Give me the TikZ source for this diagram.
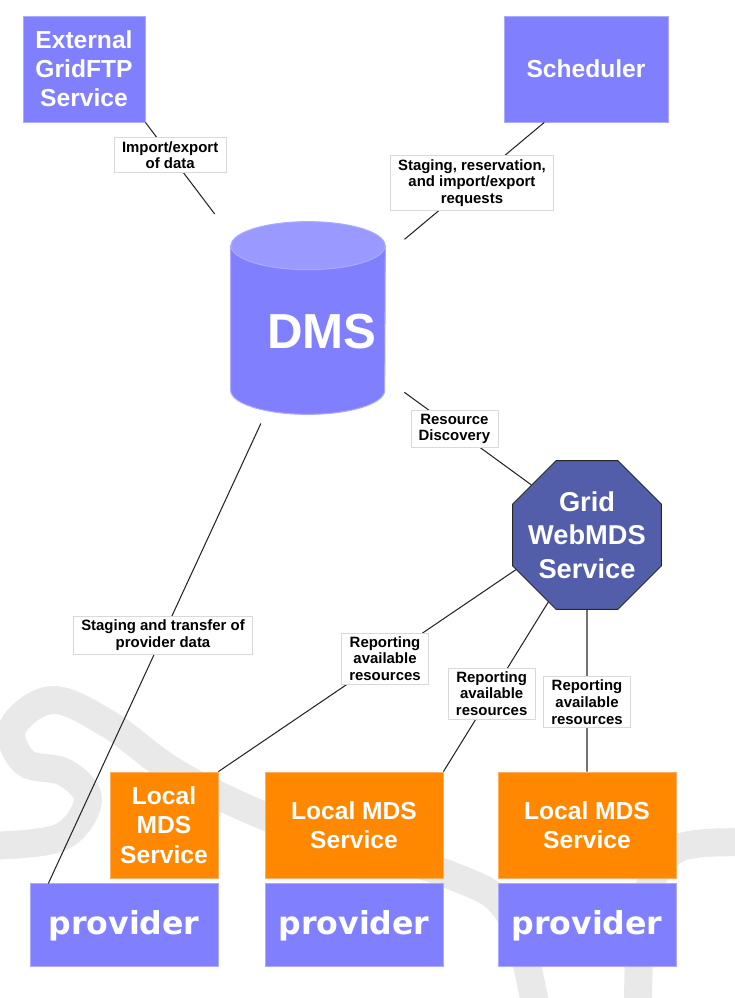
\documentclass[tikz,border=0pt]{standalone}
\usepackage{fontspec}
\setmainfont{Liberation Sans}
\newfontfamily\provfont{DejaVu Sans}
\usepackage{xcolor}
\usetikzlibrary{shapes.geometric, positioning, calc}
\definecolor{boxblue}{RGB}{128,128,255}
\definecolor{boxedge}{RGB}{170,170,255}
\definecolor{cyltop}{RGB}{153,153,255}
\definecolor{hubblue}{RGB}{82,94,170}
\definecolor{mdsorange}{RGB}{255,136,0}
\definecolor{mdsedge}{RGB}{255,175,100}
\definecolor{swirlgray}{RGB}{233,233,233}
\tikzset{
    service/.style={
        rectangle,
        draw=boxedge,
        line width=0.5pt,
        fill=boxblue,
        text=white,
        align=center,
        minimum height=2.12cm,
        font=\bfseries\fontsize{14}{16.6}\selectfont
    },
    localmds/.style={
        rectangle,
        draw=mdsedge,
        line width=0.5pt,
        fill=mdsorange,
        text=white,
        align=center,
        minimum height=2.12cm,
        font=\bfseries\fontsize{14}{16.8}\selectfont
    },
    provbox/.style={
        rectangle,
        draw=boxedge,
        line width=0.5pt,
        fill=boxblue,
        text=white,
        minimum height=1.66cm,
        font=\provfont\bfseries\fontsize{18}{20}\selectfont
    },
    hub/.style={
        regular polygon,
        regular polygon sides=8,
        minimum size=3.22cm,
        inner sep=-6pt,
        draw=black!85,
        line width=0.5pt,
        fill=hubblue,
        text=white,
        align=center,
        font=\bfseries\fontsize{15.5}{19}\selectfont
    },
    link/.style={
        draw=black!85,
        line width=0.6pt
    },
    linklabel/.style={
        rectangle,
        draw=black!15,
        line width=0.3pt,
        fill=white,
        align=center,
        inner xsep=4.5pt,
        inner ysep=2pt,
        font=\bfseries\fontsize{8.5}{9.5}\selectfont
    },
    swirl/.style={
        draw=swirlgray,
        line width=0.56cm
    }
}
\begin{document}
\begin{tikzpicture}

\useasboundingbox (0,0) rectangle (14.7,-19.96);

% Background swirl
\draw[swirl] plot[smooth, tension=0.6] coordinates {(-0.3,-16.92) (1.2,-16.75) (1.76,-16.0) (1.3,-15.45) (0.5,-15.25) (0.25,-14.55) (1.05,-14.0) (2.2,-14.5) (3.66,-15.54) (6.0,-16.6) (9.0,-17.5) (10.2,-18.3) (10.74,-20.3)};
\draw[swirl] plot[smooth, tension=0.6] coordinates {(15.0,-16.85) (13.6,-16.95) (13.0,-17.7) (12.8,-18.8) (12.76,-20.3)};

% External GridFTP service and scheduler
\node[service, minimum width=2.44cm] (gridftp) at (1.68,-1.38) {External\\GridFTP\\Service};
\node[service, minimum width=3.28cm] (sched) at (11.72,-1.38) {Scheduler};

% DMS cylinder
\node[rectangle, minimum width=3.08cm, minimum height=3.84cm, inner sep=0pt] (dms) at (6.16,-6.36) {};
\filldraw[fill=boxblue, draw=boxedge, line width=0.6pt] ([yshift=-0.48cm]dms.north west) -- ([yshift=0.48cm]dms.south west) arc[start angle=180, end angle=360, x radius=1.54cm, y radius=0.48cm] -- ([yshift=-0.48cm]dms.north east) -- cycle;
\filldraw[fill=cyltop, draw=boxedge, line width=0.6pt] ([yshift=-0.48cm]dms.north) ellipse[x radius=1.54cm, y radius=0.48cm];
\node[text=white, font=\bfseries\fontsize{28}{30}\selectfont] (dmstext) at ($(dms.center)+(0.28,-0.28)$) {DMS};

% Grid WebMDS service
\node[hub] (webmds) at (11.74,-10.70) {Grid\\WebMDS\\Service};

% Local MDS services
\node[localmds, minimum width=2.16cm] (lms1) at (3.28,-16.5) {Local\\MDS\\Service};
\node[localmds, minimum width=3.56cm] (lms2) at (7.08,-16.5) {Local MDS\\Service};
\node[localmds, minimum width=3.56cm] (lms3) at (11.74,-16.5) {Local MDS\\Service};

% Providers
\node[provbox, minimum width=3.76cm, anchor=north east] (prov1) at ([yshift=-0.1cm]lms1.south east) {provider};
\node[provbox, minimum width=3.56cm, below=0.1cm of lms2] (prov2) {provider};
\node[provbox, minimum width=3.56cm, below=0.1cm of lms3] (prov3) {provider};

% Connectors
\draw[link, shorten >=0.53cm] (gridftp.south east) -- node[linklabel, pos=0.29] (lblimport) {Import/export\\of data} (dms.133);
\draw[link, shorten >=0.5cm] (sched.232) -- node[linklabel, pos=0.455] (lblsched) {Staging, reservation,\\and import/export\\requests} (dms.39);
\draw[link, shorten <=0.47cm] (dms.-38) -- node[linklabel, pos=0.473] (lbldisc) {Resource\\Discovery} (webmds.138);
\draw[link, shorten <=0.2cm] (dms.246) -- node[linklabel, pos=0.471] (lblstage) {Staging and transfer of\\provider data} (prov1.151);
\draw[link] (webmds.206) -- node[linklabel, pos=0.44] (lblrep1) {Reporting\\available\\resources} (lms1.north east);
\draw[link] (webmds.240) -- node[linklabel, pos=0.54] (lblrep2) {Reporting\\available\\resources} (lms2.north east);
\draw[link] (webmds.south) -- node[linklabel, pos=0.57] (lblrep3) {Reporting\\available\\resources} (lms3.north);

\end{tikzpicture}
\end{document}
